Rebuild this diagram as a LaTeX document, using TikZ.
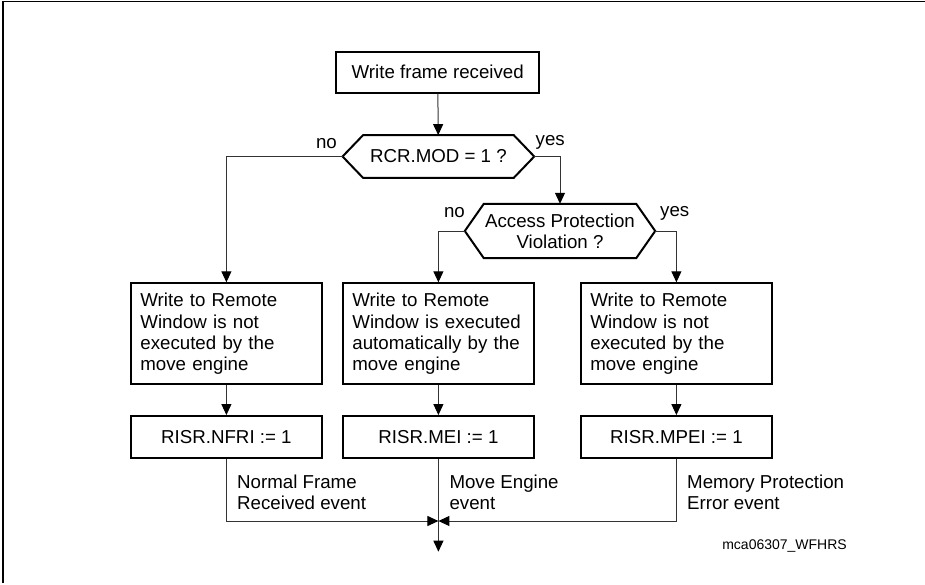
\documentclass[tikz,border=0pt]{standalone}
\usepackage{fontspec}
\setmainfont{Liberation Sans}
\usetikzlibrary{arrows.meta}
\begin{document}
\begin{tikzpicture}[x=1pt,y=-1pt,
  every node/.style={font=\fontsize{18.7}{21.2}\selectfont},
  box/.style={draw=black,line width=2pt,minimum width=191.3pt,inner sep=0pt},
  bigbox/.style={box,minimum height=101pt,text width=172pt,inner xsep=9.6pt,align=left},
  smallbox/.style={box,minimum height=41.5pt,align=center},
  hexnode/.style={inner sep=0pt,align=center},
  hexline/.style={draw=black,line width=2pt,line join=miter},
  frameline/.style={draw=black,line width=1.5pt},
  conn/.style={draw=black!80,line width=1pt},
  arr/.style={conn,-{Triangle[length=11pt,width=10pt,fill=black,color=black]}},
  lbl/.style={inner sep=0pt}
]
\useasboundingbox (0,0) rectangle (925,585);
\draw[frameline] (3,583) -- (3,1.5) -- (925,1.5);

\node[smallbox,minimum width=203.3pt,minimum height=41pt] (start) at (437.7,72.2) {Write frame received};
\node[hexnode,minimum width=191.3pt,minimum height=42.3pt] (h1) at (438.4,156.5) {RCR.MOD = 1 ?};
\node[hexnode,minimum width=190pt,minimum height=54pt] (h2) at (560,231) {Access Protection\\Violation ?};

\draw[hexline] (h1.west) -- ([xshift=20.5pt]h1.north west) -- ([xshift=-20.5pt]h1.north east) -- (h1.east) -- ([xshift=-20.5pt]h1.south east) -- ([xshift=20.5pt]h1.south west) -- cycle;
\draw[hexline] (h2.west) -- ([xshift=19pt]h2.north west) -- ([xshift=-19pt]h2.north east) -- (h2.east) -- ([xshift=-19pt]h2.south east) -- ([xshift=19pt]h2.south west) -- cycle;

\node[bigbox] (b1) at (226.4,333.8) {Write to Remote\\Window is not\\executed by the\\move engine};
\node[bigbox] (b2) at (438.4,333.8) {Write to Remote\\Window is executed\\automatically by the\\move engine};
\node[bigbox] (b3) at (676.4,333.8) {Write to Remote\\Window is not\\executed by the\\move engine};

\node[smallbox] (r1) at (226.4,436.8) {RISR.NFRI := 1};
\node[smallbox] (r2) at (438.4,436.8) {RISR.MEI := 1};
\node[smallbox] (r3) at (676.4,436.8) {RISR.MPEI := 1};

\coordinate (join) at (438.4,521);
\coordinate (out) at (438.4,551.7);

\draw[arr] (start) -- (h1);
\draw[arr] (h1.west) -| (b1.north);
\draw[arr] (h1.east) -| (h2.north);
\draw[arr] (h2.west) -| (b2.north);
\draw[arr] (h2.east) -| (b3.north);
\draw[arr] (b1) -- (r1);
\draw[arr] (b2) -- (r2);
\draw[arr] (b3) -- (r3);
\draw[arr] (r1.south) |- (join);
\draw[arr] (r3.south) |- (join);
\draw[arr] (r2.south) -- (out);

\node[lbl,anchor=base east] (no1) at (337,148.5) {no};
\node[lbl,anchor=base west] (yes1) at (535.5,146) {yes};
\node[lbl,anchor=base east] (no2) at (465,218) {no};
\node[lbl,anchor=base west] (yes2) at (660,217) {yes};

\node[lbl,anchor=north west,align=left] (e1) at (237,475) {Normal Frame\\Received event};
\node[lbl,anchor=north west,align=left] (e2) at (449.3,475) {Move Engine\\event};
\node[lbl,anchor=north west,align=left] (e3) at (687,475) {Memory Protection\\Error event};
\node[lbl,anchor=base east,font=\fontsize{14}{16}\selectfont] (id) at (847,549.3) {mca06307\_WFHRS};
\end{tikzpicture}
\end{document}
